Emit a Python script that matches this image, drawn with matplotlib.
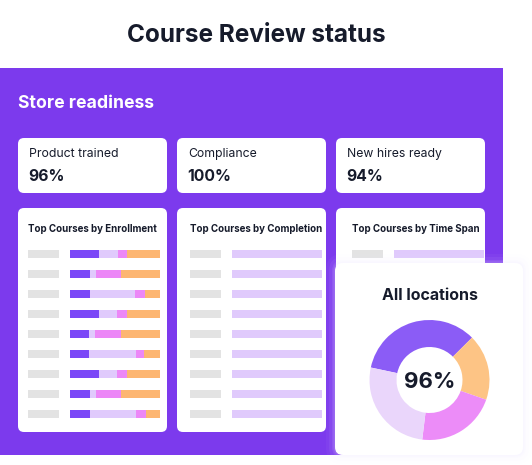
import matplotlib
matplotlib.use("Agg")
import matplotlib.pyplot as plt
from matplotlib.patches import FancyBboxPatch, Rectangle

plt.rcParams['font.family'] = ['Inter', 'DejaVu Sans']

# ---------------- data ----------------
title = "Course Review status"
section_title = "Store readiness"
kpi_labels = ["Product trained", "Compliance", "New hires ready"]
kpi_values = ["96%", "100%", "94%"]

panel_titles = ["Top Courses by Enrollment", "Top Courses by Completion", "Top Courses by Time Span"]

# Enrollment: stacked segments per course (9 courses)
enroll_seg1 = [32, 22, 22, 32, 21, 21, 32, 22, 22]
enroll_seg2 = [21, 7, 50, 20, 7, 52, 20, 7, 51]
enroll_seg3 = [10, 28, 11, 11, 29, 9, 11, 28, 11]
enroll_seg4 = [37, 43, 17, 37, 43, 18, 37, 43, 16]

completion_values = [100, 100, 100, 100, 100, 100, 100, 100, 100]
timespan_values = [100, 100, 100, 100, 100, 100, 100, 100, 100]
placeholder_values = [1, 1, 1, 1, 1, 1, 1, 1, 1]

donut_title = "All locations"
donut_center_label = "96%"
donut_values = [34.2, 17.8, 21.6, 26.4]

# ---------------- style ----------------
W, H = 532, 465
PURPLE_BG = "#7c3aed"
DARK = "#161b2b"
C_PURPLE = "#7b47f7"
C_LIGHT = "#e0cafc"
C_PINK = "#ec87f7"
C_ORANGE = "#fdb672"
C_GREY = "#e3e3e3"
DONUT_COLORS = ["#8b5cf6", "#fdc485", "#ec8cf8", "#ead6fb"]

fig = plt.figure(figsize=(W / 100, H / 100), dpi=100)
fig.patch.set_facecolor("white")


def px_axes(x0, y0, x1, y1, z=1):
    ax = fig.add_axes([x0 / W, 1 - y1 / H, (x1 - x0) / W, (y1 - y0) / H], zorder=z)
    ax.set_axis_off()
    return ax


bg = px_axes(0, 0, W, H, z=0)
bg.set_xlim(0, W)
bg.set_ylim(H, 0)


def card(ax, x, y, w, h, r=6, color="white", z=2, **kw):
    p = FancyBboxPatch((x, y), w, h, boxstyle=f"round,pad=0,rounding_size={r}",
                       fc=color, ec="none", zorder=z, **kw)
    ax.add_patch(p)
    return p


bg.text(256, 35, title, ha="center", va="center", fontsize=17.5,
        fontweight="bold", color=DARK)
bg.add_patch(Rectangle((0, 68), 503, 387, fc=PURPLE_BG, ec="none", zorder=1))
bg.text(18, 103, section_title, ha="left", va="center", fontsize=12.7,
        fontweight="bold", color="white", zorder=3)

card_x = [18, 177, 336]
card_w = 149
label_x = [28, 190, 352]
bar_x = [70, 232, 394]
for i in range(3):
    card(bg, card_x[i], 138, card_w, 55)
    bg.text(card_x[i] + 11, 154, kpi_labels[i], ha="left", va="center",
            fontsize=8.8, color=DARK, zorder=3)
    bg.text(card_x[i] + 10, 176.5, kpi_values[i], ha="left", va="center",
            fontsize=11.3, fontweight="bold", color=DARK, zorder=3)
    card(bg, card_x[i], 208, card_w, 224)
    bg.text(label_x[i], 229, panel_titles[i], ha="left", va="center",
            fontsize=7.0, fontweight="bold", color=DARK, zorder=3)

rows = list(range(9))
ROW_TOP, ROW_BOT = 244, 424


def bar_axes(x0, x1, xmax):
    ax = px_axes(x0, ROW_TOP, x1, ROW_BOT, z=2)
    ax.set_xlim(0, xmax)
    ax.set_ylim(8.5, -0.5)
    return ax


# Enrollment panel
ax = bar_axes(label_x[0], label_x[0] + 31, 1)
ax.barh(rows, placeholder_values, height=0.4, color=C_GREY)
ax = bar_axes(bar_x[0], bar_x[0] + 90, 100)
left = [0] * 9
for seg, col in zip([enroll_seg1, enroll_seg2, enroll_seg3, enroll_seg4],
                    [C_PURPLE, C_LIGHT, C_PINK, C_ORANGE]):
    ax.barh(rows, seg, left=left, height=0.4, color=col)
    left = [a + b for a, b in zip(left, seg)]

# Completion panel
ax = bar_axes(label_x[1], label_x[1] + 31, 1)
ax.barh(rows, placeholder_values, height=0.4, color=C_GREY)
ax = bar_axes(bar_x[1], bar_x[1] + 90, 100)
ax.barh(rows, completion_values, height=0.4, color=C_LIGHT)

# Time span panel
ax = bar_axes(label_x[2], label_x[2] + 31, 1)
ax.barh(rows, placeholder_values, height=0.4, color=C_GREY)
ax = bar_axes(bar_x[2], bar_x[2] + 90, 100)
ax.barh(rows, timespan_values, height=0.4, color=C_LIGHT)

# Donut card overlay
cx0, cy0, cx1, cy1 = 335, 263, 523, 455
cax = px_axes(cx0, cy0, cx1, cy1, z=5)
cax.set_xlim(cx0, cx1)
cax.set_ylim(cy1, cy0)
for pad, a in [(9, 0.04), (6, 0.06), (3, 0.09), (1.5, 0.12)]:
    p = FancyBboxPatch((cx0, cy0), cx1 - cx0, cy1 - cy0,
                       boxstyle=f"round,pad={pad},rounding_size={8 + pad}",
                       fc="#efe8ff", ec="none", alpha=a, zorder=1, clip_on=False)
    cax.add_patch(p)
p = FancyBboxPatch((cx0, cy0), cx1 - cx0, cy1 - cy0,
                   boxstyle="round,pad=0,rounding_size=8",
                   fc="white", ec="none", zorder=2, clip_on=False)
cax.add_patch(p)
cax.text(429.5, 295, donut_title, ha="center", va="center", fontsize=11.5,
         fontweight="bold", color=DARK, zorder=3)

pax = px_axes(429.5 - 60, 380 - 60, 429.5 + 60, 380 + 60, z=6)
pax.pie(donut_values, colors=DONUT_COLORS, startangle=168, counterclock=False,
        wedgeprops=dict(width=0.45, edgecolor="none"))
pax.set_xlim(-1, 1)
pax.set_ylim(-1, 1)
pax.set_aspect("equal")
pax.text(0, -0.03, donut_center_label, ha="center", va="center", fontsize=16,
         fontweight="bold", color=DARK)

fig.savefig("out.png", dpi=100, facecolor="white")
